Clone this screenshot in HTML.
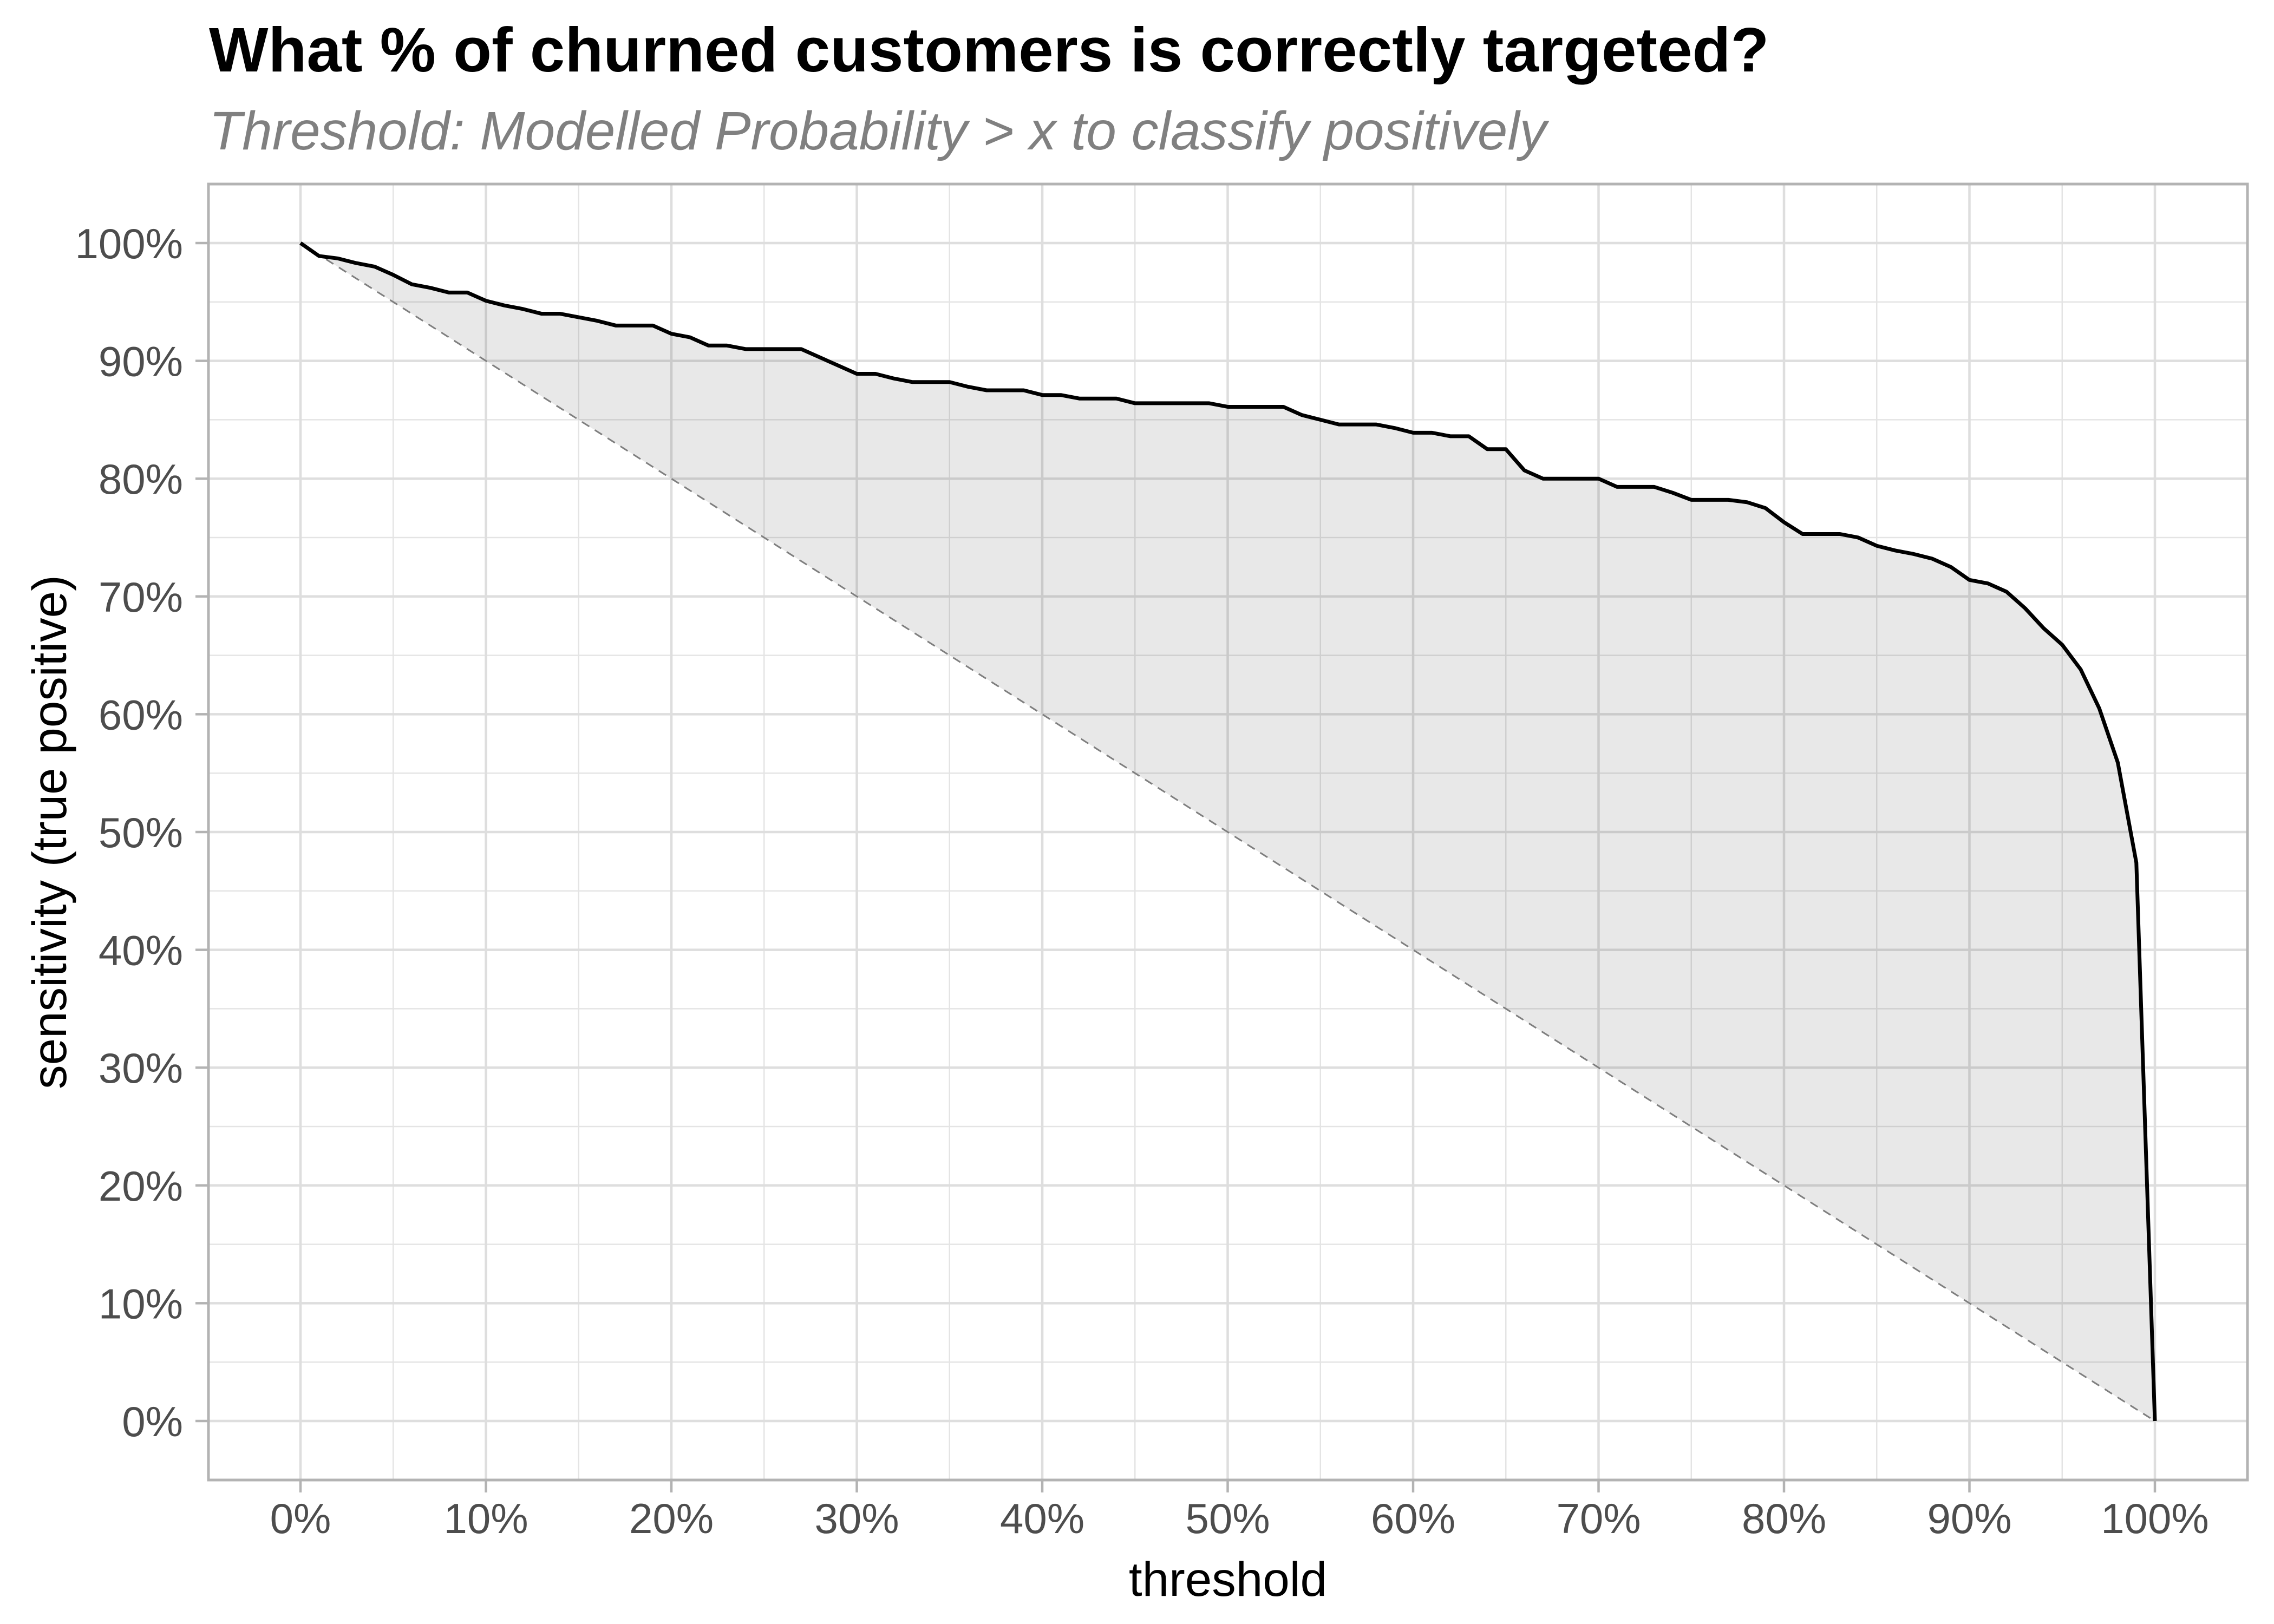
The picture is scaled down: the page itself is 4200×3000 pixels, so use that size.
<!DOCTYPE html>
<html><head><meta charset="utf-8"><style>
html,body{margin:0;padding:0;background:#fff;}
svg{display:block;font-family:"Liberation Sans",Arial,sans-serif;}
</style></head><body>
<svg id="chart" width="4200" height="3000" viewBox="0 0 4200 3000" xmlns="http://www.w3.org/2000/svg">
<rect width="4200" height="3000" fill="#fff"/>
<text x="386" y="132" font-size="116" font-weight="bold" fill="#000">What % of churned customers is correctly targeted?</text>
<text x="386" y="276" font-size="100" font-style="italic" fill="#808080">Threshold: Modelled Probability &gt; x to classify positively</text>
<g id="grid"></g>
<g id="marks"></g>
<rect x="385" y="340" width="3766" height="2394" fill="none" stroke="#b3b3b3" stroke-width="5"/>
<g id="axes"></g>
<text x="2268" y="2948" font-size="89" text-anchor="middle" fill="#000">threshold</text>
<text transform="translate(122,1537) rotate(-90)" font-size="89" text-anchor="middle" fill="#000">sensitivity (true positive)</text>
</svg>
<script>
const thresholds = [0,1,2,3,4,5,6,7,8,9,10,11,12,13,14,15,16,17,18,19,20,21,22,23,24,25,26,27,28,29,30,31,32,33,34,35,36,37,38,39,40,41,42,43,44,45,46,47,48,49,50,51,52,53,54,55,56,57,58,59,60,61,62,63,64,65,66,67,68,69,70,71,72,73,74,75,76,77,78,79,80,81,82,83,84,85,86,87,88,89,90,91,92,93,94,95,96,97,98,99,100];
const sensitivity = [100,98.9,98.7,98.3,98.0,97.3,96.5,96.2,95.8,95.8,95.1,94.7,94.4,94.0,94.0,93.7,93.4,93.0,93.0,93.0,92.3,92.0,91.3,91.3,91.0,91.0,91.0,91.0,90.3,89.6,88.9,88.9,88.5,88.2,88.2,88.2,87.8,87.5,87.5,87.5,87.1,87.1,86.8,86.8,86.8,86.4,86.4,86.4,86.4,86.4,86.1,86.1,86.1,86.1,85.4,85.0,84.6,84.6,84.6,84.3,83.9,83.9,83.6,83.6,82.5,82.5,80.7,80.0,80.0,80.0,80.0,79.3,79.3,79.3,78.8,78.2,78.2,78.2,78.0,77.5,76.3,75.3,75.3,75.3,75.0,74.3,73.9,73.6,73.2,72.5,71.4,71.1,70.4,69.0,67.3,65.9,63.8,60.5,55.9,47.4,0];
const tickValues = [0,10,20,30,40,50,60,70,80,90,100];
const tickLabels = ["0%","10%","20%","30%","40%","50%","60%","70%","80%","90%","100%"];

const NS="http://www.w3.org/2000/svg";
const X0=555, X1=3980, Y0=2625, Y1=449;
function sx(v){return X0+(X1-X0)*v/100;}
function sy(v){return Y0+(Y1-Y0)*v/100;}
function mk(tag,attrs,parent){const e=document.createElementNS(NS,tag);for(const k in attrs)e.setAttribute(k,attrs[k]);parent.appendChild(e);return e;}
const grid=document.getElementById('grid'), marks=document.getElementById('marks'), axes=document.getElementById('axes');
const L=385,R=4151,T=340,B=2734;
for(let i=0;i<tickValues.length-1;i++){
  const m=(tickValues[i]+tickValues[i+1])/2;
  const a=mk('line',{x1:sx(m),x2:sx(m),y1:T,y2:B,stroke:'#e4e4e4','stroke-width':2.5},grid);
  
  
  const b=mk('line',{x1:L,x2:R,y1:sy(m),y2:sy(m),stroke:'#e4e4e4','stroke-width':2.5},grid);
  
  
}
tickValues.forEach((v,i)=>{
  const a=mk('line',{x1:sx(v),x2:sx(v),y1:T,y2:B,stroke:'#dedede','stroke-width':4.5},grid);
  
  
  const b=mk('line',{x1:L,x2:R,y1:sy(v),y2:sy(v),stroke:'#dedede','stroke-width':4.5},grid);
  
  
  const tx=mk('line',{x1:sx(v),x2:sx(v),y1:B,y2:B+23,stroke:'#b3b3b3','stroke-width':4.5},axes);
  
  
  const ty=mk('line',{x1:L-24,x2:L,y1:sy(v),y2:sy(v),stroke:'#b3b3b3','stroke-width':4.5},axes);
  
  
  const lx=mk('text',{x:sx(v),y:2832,'font-size':78,'text-anchor':'middle',fill:'#4d4d4d'},axes);
  lx.textContent=tickLabels[i];
  
  
  const ly=mk('text',{x:338,y:sy(v)+28,'font-size':78,'text-anchor':'end',fill:'#4d4d4d'},axes);
  ly.textContent=tickLabels[i];
  
  
});
let pts=thresholds.map((t,i)=>sx(t)+','+sy(sensitivity[i]));
let back=thresholds.slice().reverse().map(t=>sx(t)+','+sy(100-t));
const rib=mk('polygon',{points:pts.concat(back).join(' '),fill:'#000','fill-opacity':0.09},marks);


const diag=mk('line',{x1:sx(0),y1:sy(100),x2:sx(100),y2:sy(0),stroke:'#7f7f7f','stroke-width':3,'stroke-dasharray':'16,12'},marks);


const line=mk('polyline',{points:pts.join(' '),fill:'none',stroke:'#000','stroke-width':7,'stroke-linejoin':'round'},marks);


</script>
</body></html>
